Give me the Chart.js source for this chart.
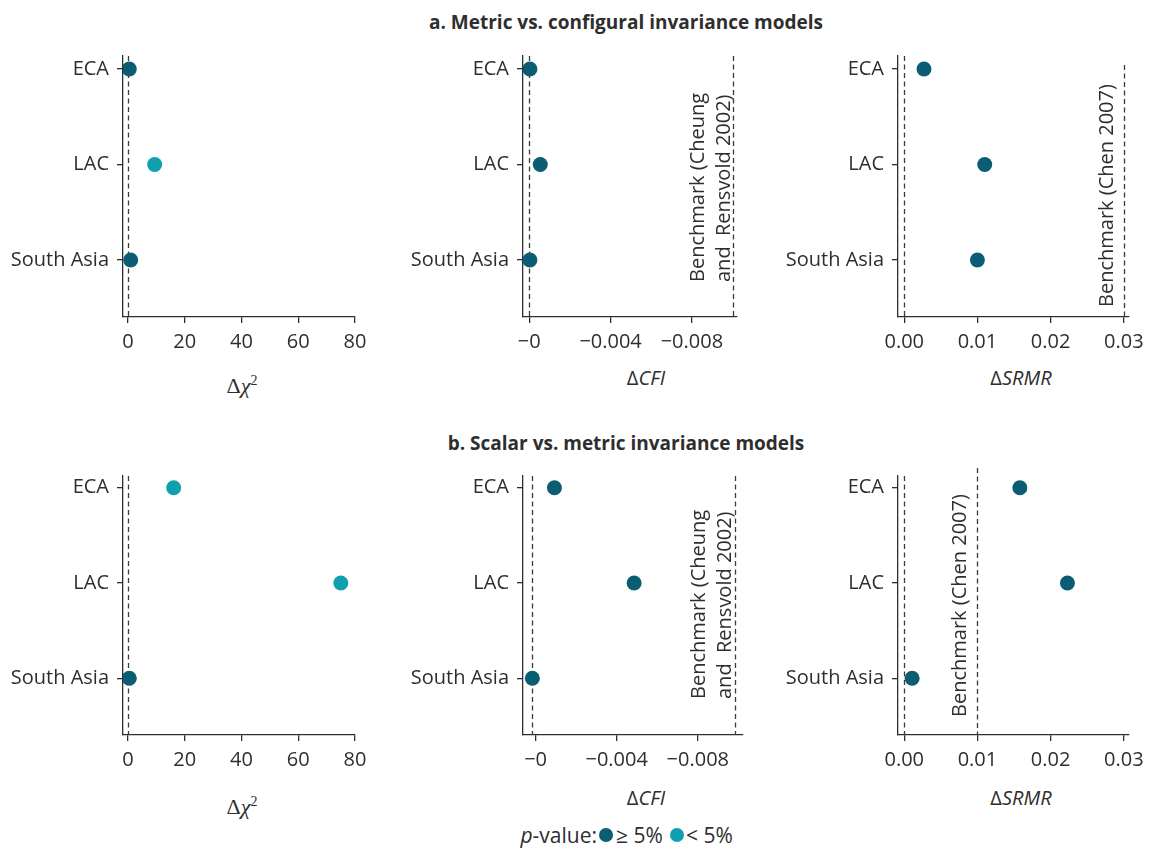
<!DOCTYPE html>
<html>
<head>
<meta charset="utf-8">
<script src="https://cdn.jsdelivr.net/npm/chart.js@4.4.0/dist/chart.umd.min.js"></script>
<style>
  body { margin: 0; background: #fff; }
  #wrap { position: relative; width: 1157px; height: 848px; font-family: "Open Sans", sans-serif; color: #2e2e2e; }
  #wrap canvas { position: absolute; }
  .title { position: absolute; left: 0; width: 1252px; text-align: center; font-weight: bold; font-size: 19px; line-height: 22px; }
  .axt { position: absolute; width: 200px; text-align: center; font-size: 20px; line-height: 24px; }
  .math { font-family: "Liberation Serif", serif; font-size: 22px; }
  .math sup { font-size: 14px; }
  .lg { position: absolute; top: 822px; font-size: 21px; line-height: 26px; white-space: nowrap; }
  .dot { position: absolute; top: 828px; width: 14px; height: 14px; border-radius: 50%; }
</style>
</head>
<body>
<div id="wrap">
  <div class="title" style="top:11px">a. Metric vs. configural invariance models</div>
  <div class="title" style="top:432px">b. Scalar vs. metric invariance models</div>

  <div class="axt math" style="left:142px;top:369px">Δ<i>χ</i><sup>2</sup></div>
  <div class="axt" style="left:546px;top:366px">Δ<i>CFI</i></div>
  <div class="axt" style="left:921px;top:366px">Δ<i>SRMR</i></div>
  <div class="axt math" style="left:142px;top:790px">Δ<i>χ</i><sup>2</sup></div>
  <div class="axt" style="left:546px;top:786px">Δ<i>CFI</i></div>
  <div class="axt" style="left:921px;top:786px">Δ<i>SRMR</i></div>

  <span class="lg" style="right:560px"><i>p</i>-value:</span>
  <span class="dot" style="left:599px;background:#0a5d73"></span>
  <span class="lg" style="left:616px">≥ 5%</span>
  <span class="dot" style="left:670px;background:#0ea1ad"></span>
  <span class="lg" style="left:686px">&lt; 5%</span>
</div>

<script>
// categories (top to bottom) and their position on the y scale
let regions = ['ECA', 'LAC', 'South Asia'];
let region_pos = [2, 1, 0];

// a. metric vs configural
let chi_a = [0.46, 9.4, 0.95];
let chi_a_low_p = [false, true, false];
let cfi_a = [-0.00003, -0.00054, -0.00003];
let srmr_a = [0.0027, 0.011, 0.0100];

// b. scalar vs metric
let chi_b = [16.1, 75.0, 0.46];
let chi_b_low_p = [true, true, false];
let cfi_b = [-0.00109, -0.00502, 0];
let srmr_b = [0.0158, 0.0223, 0.00108];

let no_p = [false, false, false];

// tick values and labels
let chi_ticks = [0, 20, 40, 60, 80];
let chi_tick_labels = ['0', '20', '40', '60', '80'];
let cfi_ticks_a = [0, -0.004, -0.008];
let cfi_ticks_b = [-0.00016, -0.00416, -0.00816];
let cfi_tick_labels = ['\u22120', '\u22120.004', '\u22120.008'];
let srmr_ticks = [0, 0.01, 0.02, 0.03];
let srmr_tick_labels = ['0.00', '0.01', '0.02', '0.03'];

// reference lines (zero line + benchmark)
let cfi_benchmark = -0.01;
let srmr_benchmark_a = 0.03;
let srmr_benchmark_b = 0.01;

let DARK = '#0a5d73';
let LIGHT = '#0ea1ad';
let AXIS = '#2e2e2e';
let FONT = '"Open Sans", sans-serif';

let Y_W = 120, PAD_R = 20, PAD_T = 24, X_H = 40;

let ref_plugin = {
    id: 'refLines',
    beforeDatasetsDraw(chart, args, opt) {
        let ctx = chart.ctx;
        let xs = chart.scales.x;
        let area = chart.chartArea;
        ctx.save();
        ctx.strokeStyle = '#3a3a3a';
        ctx.lineWidth = 1.3;
        ctx.setLineDash([5, 3.5]);
        (opt.lines || []).forEach(function (v, i) {
            let x = Math.round(xs.getPixelForValue(v)) + 0.5;
            let shift = opt.shift ? opt.shift[i] : 0;
            ctx.beginPath();
            ctx.moveTo(x, area.top + shift);
            ctx.lineTo(x, area.bottom);
            ctx.stroke();
        });
        if (opt.note) {
            let x = xs.getPixelForValue(opt.note.value);
            ctx.setLineDash([]);
            ctx.fillStyle = AXIS;
            ctx.font = '20px ' + FONT;
            ctx.textAlign = 'left';
            ctx.textBaseline = 'alphabetic';
            opt.note.text.forEach(function (t, i) {
                ctx.save();
                ctx.translate(x - opt.note.gap[i], area.bottom - opt.note.lift);
                ctx.rotate(-Math.PI / 2);
                ctx.fillText(t, 0, 0);
                ctx.restore();
            });
        }
        ctx.restore();
    }
};

let panels = [
    { left: 123, top: 56, w: 232, h: 261, ymin: -0.597, ymax: 2.136,
      values: chi_a, low_p: chi_a_low_p, min: -1.76, max: 80, reverse: false,
      ticks: chi_ticks, labels: chi_tick_labels, lines: [0], shift: [0], note: null },
    { left: 523, top: 56, w: 214, h: 261, ymin: -0.597, ymax: 2.136,
      values: cfi_a, low_p: no_p, min: -0.01022, max: 0.00031, reverse: true,
      ticks: cfi_ticks_a, labels: cfi_tick_labels, lines: [0, cfi_benchmark], shift: [0, 0],
      note: { value: cfi_benchmark, text: ['Benchmark (Cheung', 'and  Rensvold 2002)'], gap: [28.5, 3], lift: 35 } },
    { left: 898, top: 56, w: 233, h: 261, ymin: -0.597, ymax: 2.136,
      values: srmr_a, low_p: no_p, min: -0.00085, max: 0.03068, reverse: false,
      ticks: srmr_ticks, labels: srmr_tick_labels, lines: [0, srmr_benchmark_a], shift: [0, 9],
      note: { value: srmr_benchmark_a, text: ['Benchmark (Chen 2007)'], gap: [11], lift: 10 } },
    { left: 123, top: 476, w: 232, h: 259, ymin: -0.595, ymax: 2.123,
      values: chi_b, low_p: chi_b_low_p, min: -1.76, max: 80, reverse: false,
      ticks: chi_ticks, labels: chi_tick_labels, lines: [0], shift: [0], note: null },
    { left: 523, top: 476, w: 220, h: 259, ymin: -0.595, ymax: 2.123,
      values: cfi_b, low_p: no_p, min: -0.01039, max: 0.00046, reverse: true,
      ticks: cfi_ticks_b, labels: cfi_tick_labels, lines: [0, cfi_benchmark], shift: [0, 0],
      note: { value: cfi_benchmark, text: ['Benchmark (Cheung', 'and  Rensvold 2002)'], gap: [30, 4], lift: 36 } },
    { left: 898, top: 476, w: 233, h: 259, ymin: -0.595, ymax: 2.123,
      values: srmr_b, low_p: no_p, min: -0.00085, max: 0.03068, reverse: false,
      ticks: srmr_ticks, labels: srmr_tick_labels, lines: [0, srmr_benchmark_b], shift: [0, -8],
      note: { value: srmr_benchmark_b, text: ['Benchmark (Chen 2007)'], gap: [11.5], lift: 18 } }
];

function makePanel(p) {
    let cv = document.createElement('canvas');
    cv.width = Y_W + p.w + PAD_R;
    cv.height = PAD_T + p.h + X_H;
    cv.style.left = (p.left - Y_W) + 'px';
    cv.style.top = (p.top - PAD_T) + 'px';
    document.getElementById('wrap').appendChild(cv);

    let points = p.values.map(function (v, i) { return { x: v, y: region_pos[i] }; });

    return new Chart(cv, {
        type: 'scatter',
        data: {
            datasets: [{
                data: points,
                pointRadius: 7.5,
                pointHoverRadius: 7.5,
                pointBorderWidth: 0,
                pointBackgroundColor: p.low_p.map(function (s) { return s ? LIGHT : DARK; })
            }]
        },
        options: {
            responsive: false,
            animation: false,
            devicePixelRatio: 1,
            events: [],
            layout: { padding: { top: PAD_T, right: PAD_R, left: 0, bottom: 0 } },
            plugins: {
                legend: { display: false },
                tooltip: { enabled: false },
                refLines: { lines: p.lines, shift: p.shift, note: p.note }
            },
            scales: {
                x: {
                    type: 'linear',
                    min: p.min,
                    max: p.max,
                    reverse: p.reverse,
                    grid: { drawOnChartArea: false, drawTicks: true, tickLength: 6, color: AXIS, lineWidth: 1.3 },
                    border: { color: AXIS, width: 1.3 },
                    ticks: {
                        font: { family: FONT, size: 20 },
                        color: AXIS,
                        padding: 7,
                        autoSkip: false,
                        maxRotation: 0,
                        callback: function (v, i) { return p.labels[i]; }
                    },
                    afterBuildTicks: function (s) { s.ticks = p.ticks.map(function (v) { return { value: v }; }); },
                    afterFit: function (s) { s.height = X_H; }
                },
                y: {
                    type: 'linear',
                    min: p.ymin,
                    max: p.ymax,
                    grid: { drawOnChartArea: false, drawTicks: true, tickLength: 6, color: AXIS, lineWidth: 1.3 },
                    border: { color: AXIS, width: 1.3 },
                    ticks: {
                        font: { family: FONT, size: 20 },
                        color: AXIS,
                        padding: 8,
                        callback: function (v) { return regions[region_pos.indexOf(v)]; }
                    },
                    afterBuildTicks: function (s) { s.ticks = region_pos.map(function (v) { return { value: v }; }); },
                    afterFit: function (s) { s.width = Y_W; }
                }
            }
        },
        plugins: [ref_plugin]
    });
}

panels.forEach(makePanel);
</script>
</body>
</html>
